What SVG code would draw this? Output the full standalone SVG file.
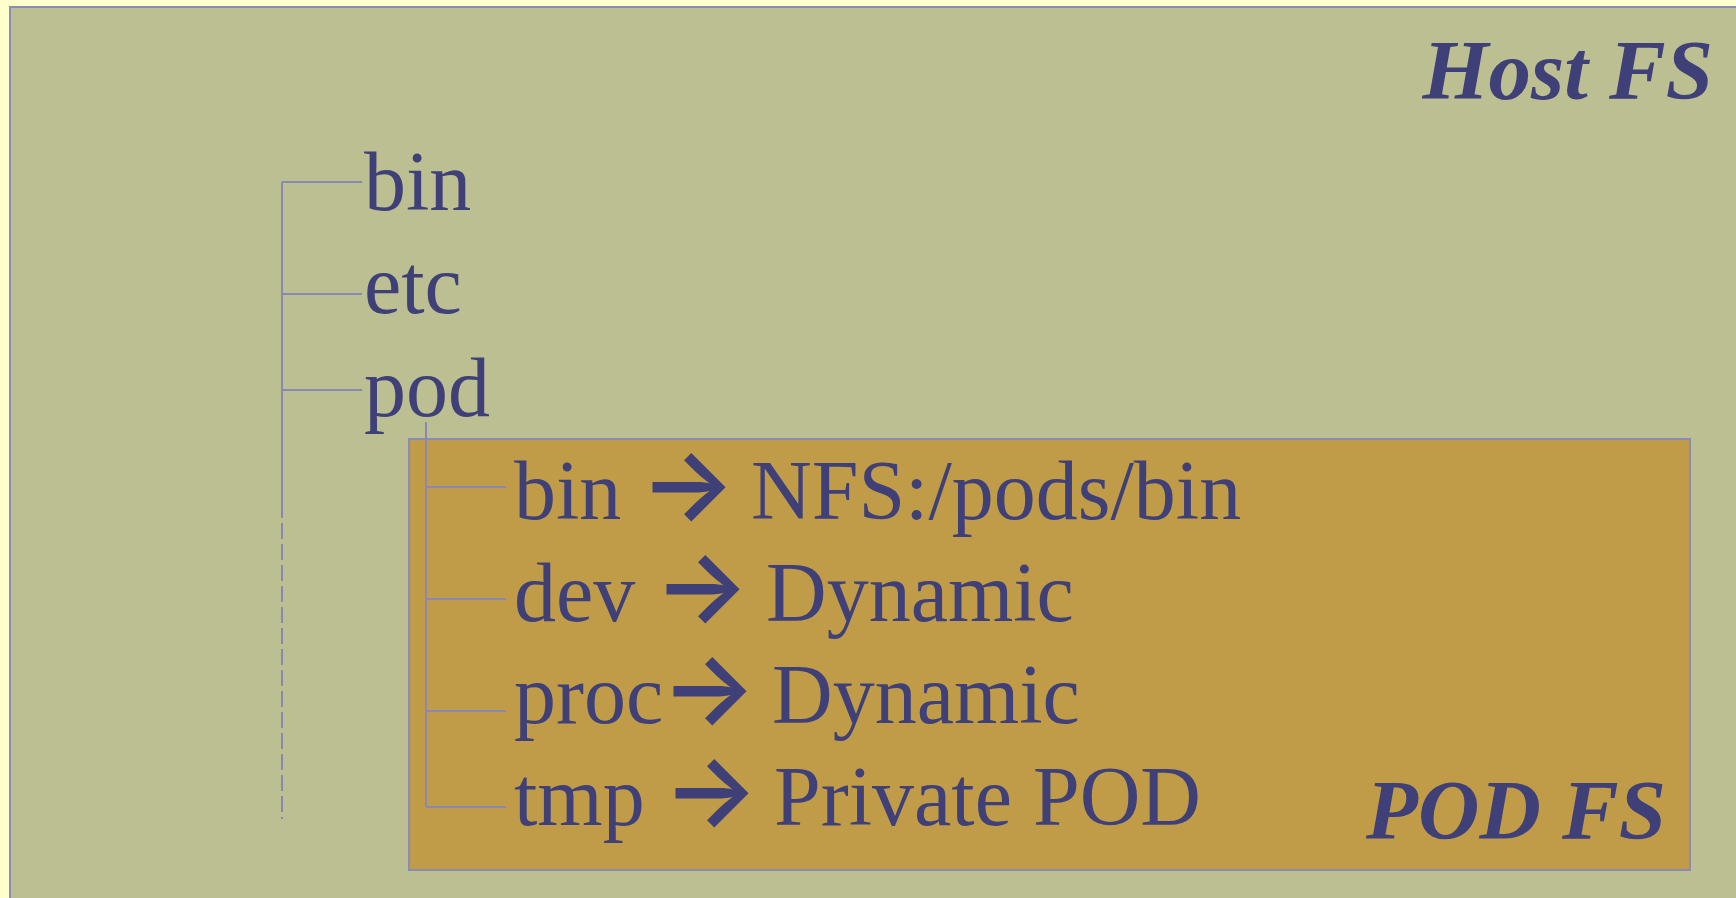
<svg xmlns="http://www.w3.org/2000/svg" width="1736" height="898" viewBox="0 0 1736 898">
  <style>
    .panel { stroke: #8B8BB5; stroke-width: 2; }
    .host { fill: #BBBF91; }
    .pod { fill: #C09C48; }
    .name { font-family: "Liberation Serif", "Times New Roman", serif; font-size: 84px; fill: #404078; }
    .title { font-family: "Liberation Serif", "Times New Roman", serif; font-size: 85px; font-weight: bold; font-style: italic; fill: #404078; }
    .arrow { font-family: Inter, "DejaVu Sans", sans-serif; font-size: 100px; font-weight: 600; }
    .link { fill: none; stroke: #8888B0; stroke-width: 2; }
    .dashed { stroke-dasharray: 16 5; }
  </style>

  <!-- page background -->
  <rect x="0" y="0" width="1736" height="898" fill="#FFFFCC"/>

  <!-- host file system panel -->
  <g id="host-fs">
    <rect class="panel host" x="10" y="7" width="1740" height="905"/>
    <text class="title" x="1713" y="99" text-anchor="end">Host FS</text>
  </g>

  <!-- pod file system panel -->
  <g id="pod-fs">
    <rect class="panel pod" x="409" y="439" width="1281" height="431"/>
    <text class="title" x="1666" y="839" text-anchor="end">POD FS</text>
  </g>

  <!-- tree connectors -->
  <g id="connectors">
    <path class="link" d="M282 182 V502 M282 182 H362 M282 294 H362 M282 390 H362"/>
    <path class="link dashed" d="M282 502 V819"/>
    <path class="link" d="M426 422 V807 M426 487 H506 M426 599 H506 M426 711 H506 M426 807 H506"/>
  </g>

  <!-- top level entries -->
  <g id="node-bin"><text class="name" x="364" y="210">bin</text></g>
  <g id="node-etc"><text class="name" x="364" y="313">etc</text></g>
  <g id="node-pod"><text class="name" x="364" y="416">pod</text></g>

  <!-- pod entries: name, mapping arrow, target -->
  <g id="node-pod-bin">
    <text class="name" x="514" y="519">bin<tspan class="arrow" x="640">→</tspan><tspan x="751">NFS:/pods/bin</tspan></text>
  </g>
  <g id="node-pod-dev">
    <text class="name" x="514" y="621">dev<tspan class="arrow" x="654">→</tspan><tspan x="766">Dynamic</tspan></text>
  </g>
  <g id="node-pod-proc">
    <text class="name" x="514" y="723">proc<tspan class="arrow" x="661">→</tspan><tspan x="772">Dynamic</tspan></text>
  </g>
  <g id="node-pod-tmp">
    <text class="name" x="514" y="825">tmp<tspan class="arrow" x="663">→</tspan><tspan x="774">Private POD</tspan></text>
  </g>
</svg>
